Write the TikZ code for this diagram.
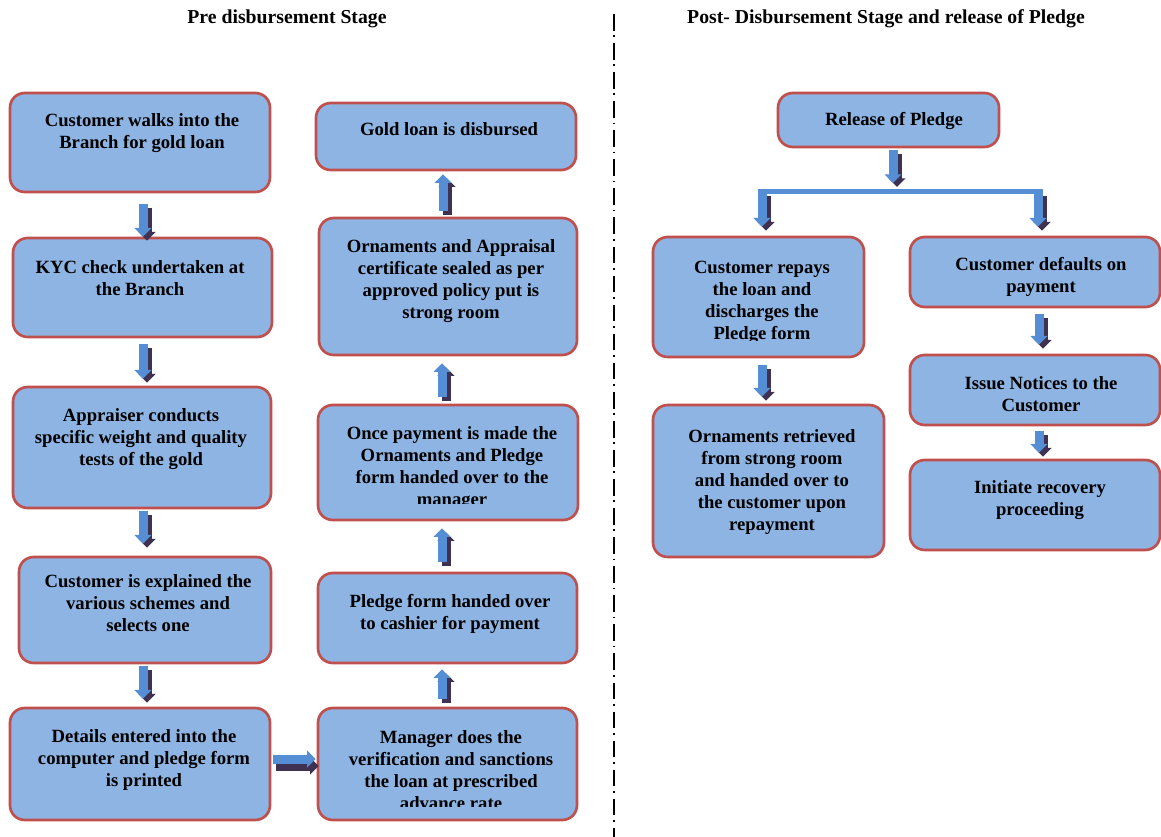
\documentclass[tikz,border=0pt]{standalone}
\usepackage{fontspec}
\setmainfont{Liberation Serif}
\usetikzlibrary{arrows.meta,calc,fit}
\definecolor{boxfill}{HTML}{8EB4E3}
\definecolor{boxline}{HTML}{C0504D}
\definecolor{arrblue}{HTML}{558ED5}
\definecolor{arrdark}{HTML}{3F3151}
\newcommand\blockarr[4]{%
  \draw[arrdk] ($(#1)+(#2)+(4,4)$) -- ($(#3)+(#4)+(4,4)$);
  \draw[arrbl] ($(#1)+(#2)$) -- ($(#3)+(#4)$);}
\begin{document}
\begin{tikzpicture}[x=0.75pt,y=-0.75pt,
  box/.style={draw=boxline, fill=boxfill, line width=2pt, rounded corners=11pt, inner sep=0pt},
  txt/.style={align=center, font=\bfseries\fontsize{14}{16.5}\selectfont, inner sep=0pt},
  ttl/.style={font=\bfseries\fontsize{14.8}{17}\selectfont, inner sep=0pt},
  arrbl/.style={draw=arrblue, line width=6.75pt, -{Triangle[width=12.5pt,length=6.5pt]}},
  arrdk/.style={draw=arrdark, line width=6.75pt, -{Triangle[width=12.5pt,length=6.5pt]}},
  barline/.style={draw=arrblue, line width=3.75pt},
  divider/.style={draw=black, line width=1.3pt, dash pattern=on 12.5pt off 3.5pt on 1.3pt off 4.5pt}]
\useasboundingbox (0,0) rectangle (1161,837);

% titles
\node[ttl] (title1) at (287,19) {Pre disbursement Stage};
\node[ttl] (title2) at (886,19) {Post- Disbursement Stage and release of Pledge};

% divider
\coordinate (divtop) at (614,14);
\coordinate (divbot) at (614,837);
\draw[divider] (divtop) -- (divbot);

% left column
\node[box, fit={(10,93)(270,192)}] (b1) {};
\node[box, fit={(13,238)(272,337)}] (b2) {};
\node[box, fit={(13,387)(271,508)}] (b3) {};
\node[box, fit={(19,557)(271,663)}] (b4) {};
\node[box, fit={(10,708)(270,820)}] (b5) {};
\node[txt] (t1) at (142,133.5) {Customer walks into the\\Branch for gold loan};
\node[txt] (t2) at (140,278.5) {KYC check undertaken at\\the Branch};
\node[txt] (t3) at (141,439.5) {Appraiser conducts\\specific weight and quality\\tests of the gold};
\node[txt] (t4) at (148,603.5) {Customer is explained the\\various schemes and\\selects one};
\node[txt] (t5) at (144,760.5) {Details entered into the\\computer and pledge form\\is printed};

% middle column
\node[box, fit={(316,103)(576,170)}] (m1) {};
\node[box, fit={(319,218)(577,355)}] (m2) {};
\node[box, fit={(318,405)(578,520)}] (m3) {};
\node[box, fit={(318,573)(577,663)}] (m4) {};
\node[box, fit={(318,708)(577,820)}] (m5) {};
\node[txt] (t6) at (449,129.5) {Gold loan is disbursed};
\node[txt] (t7) at (451,281) {Ornaments and Appraisal\\certificate sealed as per\\approved policy put is\\strong room};
\begin{scope}
\clip (318,405) rectangle (578,504);
\node[txt] (t8) at (452,468.5) {Once payment is made the\\Ornaments and Pledge\\form handed over to the\\manager};
\end{scope}
\node[txt] (t9) at (450,614) {Pledge form handed over\\to cashier for payment};
\begin{scope}
\clip (318,708) rectangle (577,806);
\node[txt] (t10) at (451,770.5) {Manager does the\\verification and sanctions\\the loan at prescribed\\advance rate};
\end{scope}

% right side
\node[box, fit={(778,93)(999,147)}] (r0) {};
\node[box, fit={(653,237)(864,357)}] (r1) {};
\node[box, fit={(653,405)(884,557)}] (r2) {};
\node[box, fit={(910,237)(1160,307)}] (r3) {};
\node[box, fit={(910,355)(1160,425)}] (r4) {};
\node[box, fit={(910,460)(1160,550)}] (r5) {};
\node[txt] (s0) at (894,121) {Release of Pledge};
\begin{scope}
\clip (653,237) rectangle (864,341);
\node[txt] (s1) at (762,302) {Customer repays\\the loan and\\discharges the\\Pledge form};
\end{scope}
\node[txt] (s2) at (772,482) {Ornaments retrieved\\from strong room\\and handed over to\\the customer upon\\repayment};
\node[txt] (s3) at (1041,276.5) {Customer defaults on\\payment};
\node[txt] (s4) at (1041,394.5) {Issue Notices to the\\Customer};
\node[txt] (s5) at (1040,500.5) {Initiate recovery\\proceeding};

% left column arrows
\blockarr{b1.south}{3,11}{b2.north}{0.5,0}
\blockarr{b2.south}{0.5,6}{b3.north}{1,-7}
\blockarr{b3.south}{1,2}{b4.north}{-2,-12}
\blockarr{b4.south}{-2,2}{b5.north}{3,-8}
% horizontal arrow
\draw[arrdk] ($(b5.east)+(5,2)$) -- ($(m5.west)+(2,2)$);
\draw[arrbl] ($(b5.east)+(2,-5)$) -- ($(m5.west)+(-1,-5)$);
% middle column arrows (upwards)
\blockarr{m5.north}{-5.5,-8}{m4.south}{-5.5,5}
\blockarr{m4.north}{-5.5,-10}{m3.south}{-6,7}
\blockarr{m3.north}{-6,-7}{m2.south}{-6,7}
\blockarr{m2.north}{-5,-6}{m1.south}{-3,3}

% right side arrows
\coordinate (barL) at (762,192);
\coordinate (barM) at (893,192);
\coordinate (barR) at (1038,192);
\blockarr{r0.south}{4.5,2}{barM}{0,-9}
\draw[barline] ($(barL)+(-4.5,0)$) -- ($(barR)+(4.5,0)$);
\blockarr{barL}{0,0}{r1.north}{3.5,-9}
\blockarr{barR}{0,0}{r3.north}{3,-9}
\blockarr{r1.south}{3.5,7}{r2.north}{-6.5,-7}
\blockarr{r3.south}{4,6}{r4.north}{4,-9}
\blockarr{r4.south}{4,5}{r5.north}{4,-6}
\end{tikzpicture}
\end{document}
